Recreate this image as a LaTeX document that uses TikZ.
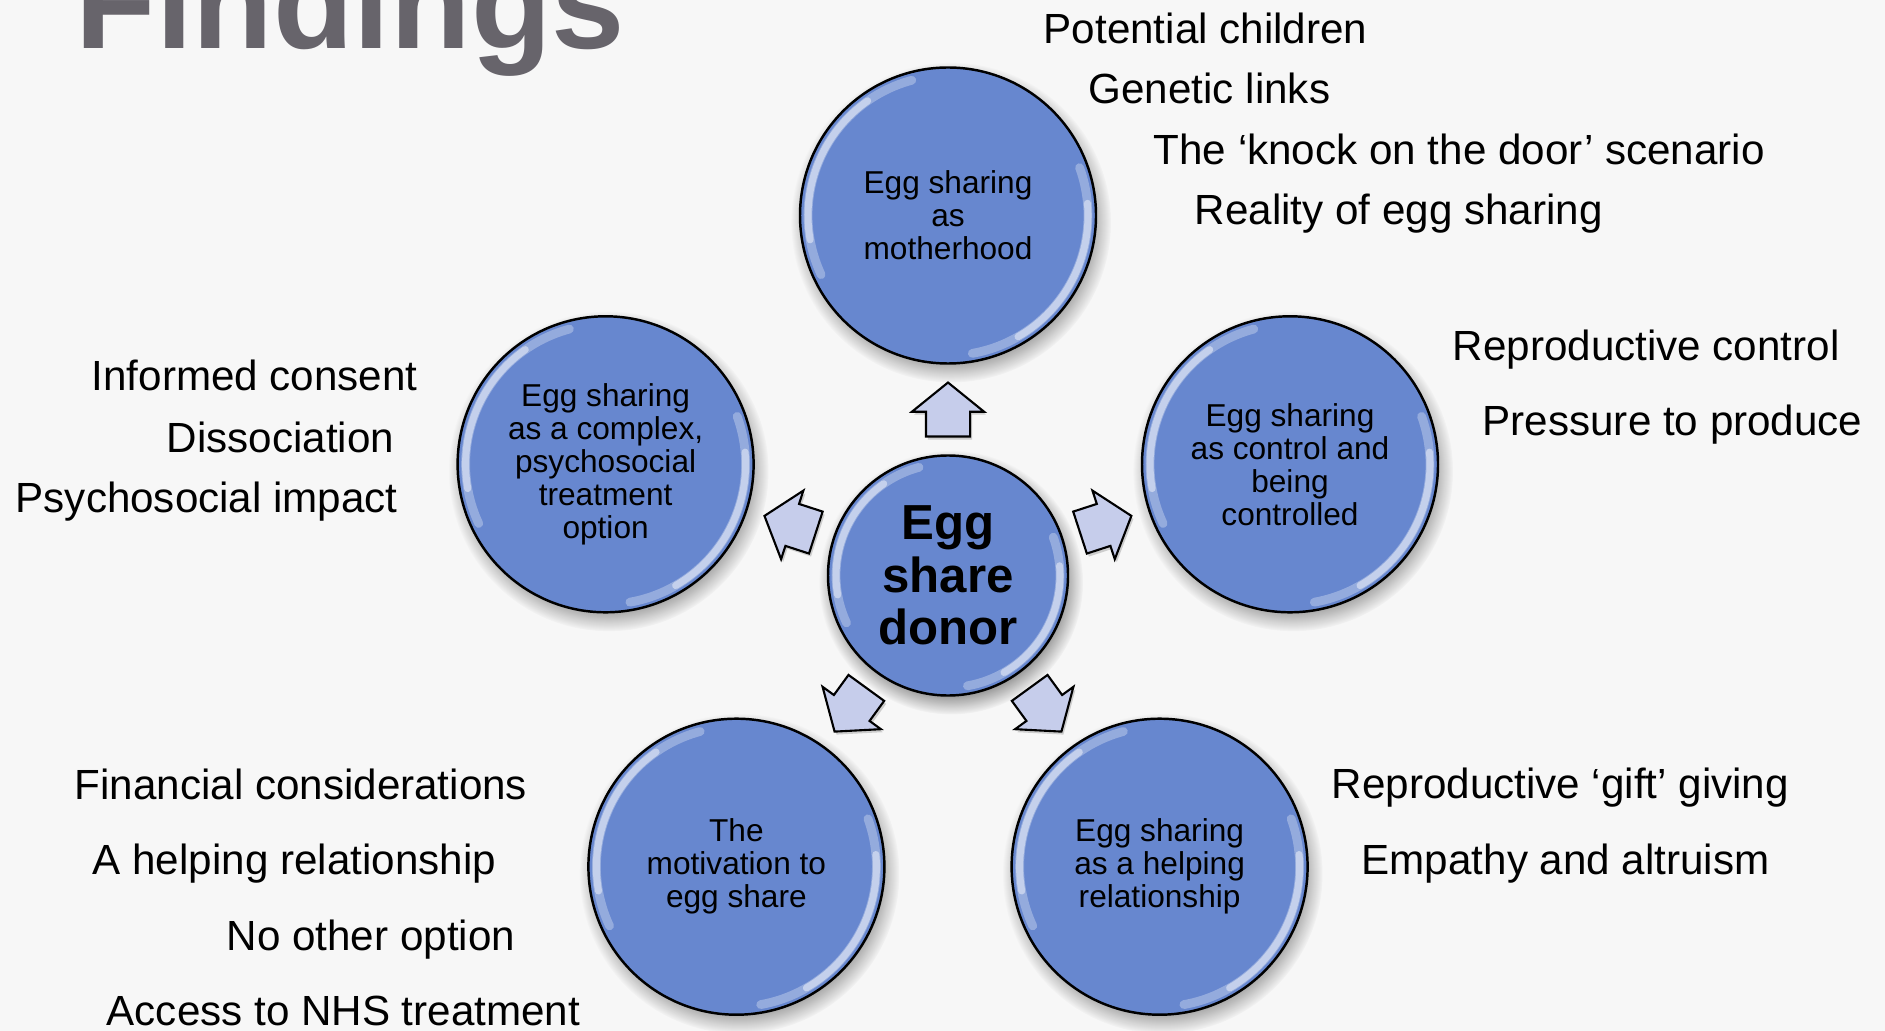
\documentclass[tikz,border=0pt]{standalone}
\usepackage{fontspec}
\setmainfont{Liberation Sans}
\usetikzlibrary{shapes.arrows,fadings,shadows,backgrounds,calc}

\definecolor{ballblue}{HTML}{6787CF}
\definecolor{arrowblue}{HTML}{C6CDEB}
\definecolor{titlegray}{HTML}{67646B}
\definecolor{paper}{HTML}{F7F7F7}

\tikzset{%
    every node/.style={inner sep=0pt},
    ball/.style={circle, draw, line width=0.7pt, fill=ballblue, minimum size=2.96cm,
        align=center, font=\fontsize{9}{9.4}\selectfont},
    hub/.style={ball, minimum size=2.40cm, font=\fontsize{14}{15}\bfseries\selectfont},
    pointer/.style={single arrow, draw, line width=0.6pt, fill=arrowblue,
        inner xsep=0.05cm, inner ysep=0.21cm,
        minimum height=0.54cm, single arrow head extend=0.14cm,
        single arrow tip angle=102,
        drop shadow={opacity=.35, shadow xshift=.02cm, shadow yshift=-.03cm}},
    finding/.style={anchor=base west, font=\fontsize{12}{14}\selectfont}
}

\begin{document}
\begin{tikzpicture}
  \useasboundingbox (0cm, 0cm) rectangle (18.85cm, -10.31cm);

  \node [anchor=base west, text=titlegray, font=\fontsize{37.5}{40}\bfseries\selectfont]
    (title) at (0.75cm, -0.49cm) {Findings};

  \node [hub] (d) at (9.48cm, -5.755cm) {Egg\\share\\donor};

  \node [ball] (s1) at (9.48cm, -2.155cm) {Egg sharing\\as\\motherhood};
  \node [ball] (s2) at (12.90cm, -4.643cm) {Egg sharing\\as control and\\being\\controlled};
  \node [ball] (s3) at (11.596cm, -8.667cm) {Egg sharing\\as a helping\\relationship};
  \node [ball] (s4) at (7.364cm, -8.667cm) {The\\motivation to\\egg share};
  \node [ball] (s5) at (6.056cm, -4.643cm) {Egg sharing\\as a complex,\\psychosocial\\treatment\\option};

  \node [pointer, rotate=90] (a1) at ($(d.90)!.4!(s1.270)$) {};
  \node [pointer, rotate=18] (a2) at ($(d.18)!.4!(s2.198)$) {};
  \node [pointer, rotate=-54] (a3) at ($(d.-54)!.4!(s3.126)$) {};
  \node [pointer, rotate=234] (a4) at ($(d.234)!.4!(s4.54)$) {};
  \node [pointer, rotate=162] (a5) at ($(d.162)!.4!(s5.-18)$) {};

  \foreach \n/\r in {d/1.12, s1/1.40, s2/1.40, s3/1.40, s4/1.40, s5/1.40} {
    \draw [white, opacity=.3, line width=2.5pt, line cap=round]
      (\n.center) ++(105:\r) arc (105:205:\r);
    \draw [white, opacity=.45, line width=2pt, line cap=round]
      (\n.center) ++(125:\r) arc (125:190:\r);
    \draw [white, opacity=.3, line width=2.5pt, line cap=round]
      (\n.center) ++(-80:\r) arc (-80:20:\r);
    \draw [white, opacity=.45, line width=2pt, line cap=round]
      (\n.center) ++(-60:\r) arc (-60:5:\r);
  }

  \node [finding] (m1) at (10.43cm, -0.44cm) {Potential children};
  \node [finding] (m2) at (10.88cm, -1.04cm) {Genetic links};
  \node [finding] (m3) at (11.53cm, -1.65cm) {The ‘knock on the door’ scenario};
  \node [finding] (m4) at (11.94cm, -2.25cm) {Reality of egg sharing};

  \node [finding] (c1) at (14.52cm, -3.61cm) {Reproductive control};
  \node [finding] (c2) at (14.82cm, -4.36cm) {Pressure to produce};

  \node [finding] (h1) at (13.31cm, -7.98cm) {Reproductive ‘gift’ giving};
  \node [finding] (h2) at (13.61cm, -8.74cm) {Empathy and altruism};

  \node [finding] (v1) at (0.74cm, -7.99cm) {Financial considerations};
  \node [finding] (v2) at (0.92cm, -8.74cm) {A helping relationship};
  \node [finding] (v3) at (2.26cm, -9.50cm) {No other option};
  \node [finding] (v4) at (1.06cm, -10.25cm) {Access to NHS treatment};

  \node [finding] (p1) at (0.91cm, -3.91cm) {Informed consent};
  \node [finding] (p2) at (1.66cm, -4.52cm) {Dissociation};
  \node [finding] (p3) at (0.15cm, -5.13cm) {Psychosocial impact};

  \begin{scope}[on background layer]
    \fill [paper] (0cm, 0cm) rectangle (18.85cm, -10.31cm);
    \foreach \n/\r in {d/1.32, s1/1.60, s2/1.60, s3/1.60, s4/1.60, s5/1.60}
      \fill [black, opacity=.5, path fading=circle with fuzzy edge 20 percent]
        ([shift={(0.03cm, -0.07cm)}]\n.center) circle (\r);
  \end{scope}
\end{tikzpicture}
\end{document}
